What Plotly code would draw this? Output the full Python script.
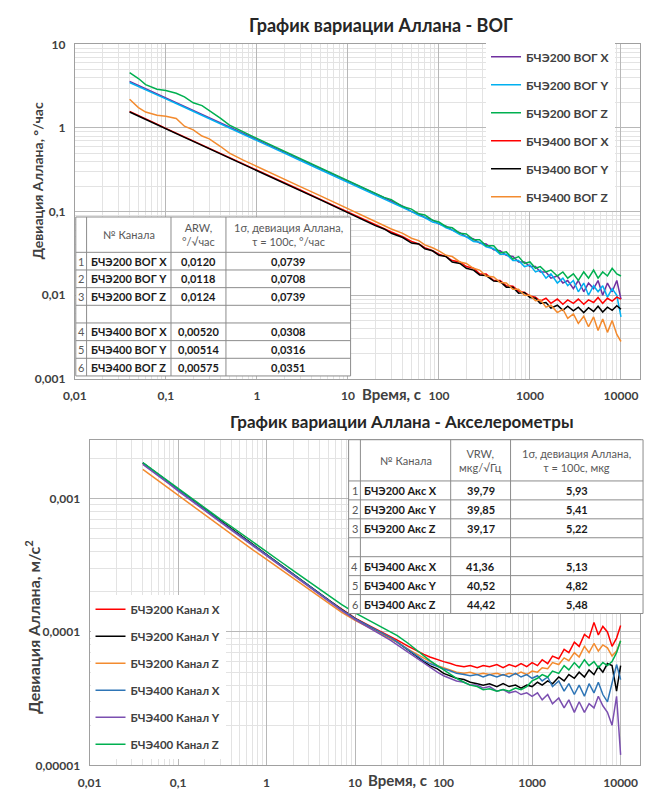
import plotly.graph_objects as go

# ---------------- DATA ----------------
tau = [0.04, 0.05, 0.06, 0.08, 0.1, 0.13, 0.16, 0.2, 0.25, 0.3, 0.4, 0.5, 0.7, 1, 1.5, 2, 3, 5, 7, 10,
       15, 20, 25, 30, 40, 50, 60, 70, 85, 100, 120, 140, 170, 200, 240, 280, 330, 400, 470, 550,
       650, 750, 870, 1000, 1150, 1300, 1500, 1700, 2000, 2300, 2600, 3000, 3400, 3900, 4400, 5000,
       5600, 6300, 7100, 8000, 9000, 10000]

x_tick_vals = [0.01, 0.1, 1, 10, 100, 1000, 10000]
x_tick_text = ["0,01", "0,1", "1", "10", "100", "1000", "10000"]
gyro_y_tick_vals = [0.001, 0.01, 0.1, 1, 10]
gyro_y_tick_text = ["0,001", "0,01", "0,1", "1", "10"]
acc_y_tick_vals = [0.00001, 0.0001, 0.001]
acc_y_tick_text = ["0,00001", "0,0001", "0,001"]

gyro_names = ["БЧЭ200 ВОГ X", "БЧЭ200 ВОГ Y", "БЧЭ200 ВОГ Z",
              "БЧЭ400 ВОГ X", "БЧЭ400 ВОГ Y", "БЧЭ400 ВОГ Z"]

gyro_200_x = [3.60, 3.22, 2.94, 2.55, 2.28, 2.0, 1.80, 1.61, 1.44, 1.32, 1.14, 1.02, 0.86, 0.72, 0.588, 0.509, 0.415, 0.322, 0.272, 0.228,
              0.186, 0.163, 0.146, 0.131, 0.116, 0.100, 0.094, 0.085, 0.079, 0.071, 0.067, 0.060, 0.056, 0.050, 0.047, 0.042, 0.041, 0.035, 0.034, 0.030,
              0.029, 0.025, 0.025, 0.022, 0.022, 0.019, 0.019, 0.016, 0.017, 0.014, 0.015, 0.012, 0.015, 0.011, 0.014, 0.012,
              0.015, 0.010, 0.014, 0.011, 0.015, 0.009]
gyro_200_y = [3.50, 3.15, 2.88, 2.50, 2.23, 1.96, 1.77, 1.58, 1.41, 1.29, 1.12, 1.0, 0.845, 0.708, 0.578, 0.500, 0.408, 0.316, 0.268, 0.224,
              0.182, 0.160, 0.141, 0.130, 0.111, 0.100, 0.090, 0.085, 0.075, 0.072, 0.064, 0.060, 0.053, 0.050, 0.044, 0.043, 0.038, 0.036, 0.031, 0.031,
              0.026, 0.026, 0.022, 0.023, 0.019, 0.020, 0.016, 0.018, 0.014, 0.016, 0.013, 0.015, 0.011, 0.014, 0.010, 0.013,
              0.011, 0.013, 0.0095, 0.012, 0.010, 0.0055]
gyro_200_z = [4.6, 3.9, 3.3, 2.9, 2.8, 2.6, 2.35, 2.0, 1.85, 1.62, 1.3, 1.08, 0.90, 0.75, 0.61, 0.528, 0.432, 0.334, 0.283, 0.236,
              0.193, 0.168, 0.148, 0.139, 0.115, 0.107, 0.094, 0.091, 0.079, 0.075, 0.066, 0.064, 0.055, 0.054, 0.046, 0.046, 0.039, 0.039, 0.032, 0.033,
              0.027, 0.029, 0.024, 0.025, 0.021, 0.022, 0.019, 0.020, 0.017, 0.019, 0.016, 0.018, 0.015, 0.019, 0.016, 0.020,
              0.016, 0.019, 0.017, 0.021, 0.018, 0.017]
gyro_400_x = [1.58, 1.40, 1.28, 1.11, 0.99, 0.87, 0.78, 0.70, 0.625, 0.572, 0.494, 0.441, 0.374, 0.313, 0.255, 0.221, 0.181, 0.140, 0.118, 0.099,
              0.081, 0.070, 0.063, 0.057, 0.050, 0.044, 0.041, 0.037, 0.034, 0.031, 0.029, 0.026, 0.025, 0.022, 0.021, 0.018, 0.018, 0.015, 0.0150, 0.013,
              0.0128, 0.0112, 0.0108, 0.0098, 0.0095, 0.0085, 0.0092, 0.0080, 0.0090, 0.0078, 0.0088, 0.0080, 0.0090, 0.0078, 0.0088, 0.0082,
              0.0094, 0.0080, 0.0092, 0.0085, 0.0095, 0.0090]
gyro_400_y = [1.55, 1.38, 1.26, 1.09, 0.975, 0.855, 0.77, 0.69, 0.616, 0.563, 0.487, 0.435, 0.368, 0.308, 0.252, 0.218, 0.178, 0.138, 0.116, 0.097,
              0.080, 0.068, 0.062, 0.055, 0.049, 0.042, 0.041, 0.036, 0.034, 0.030, 0.029, 0.025, 0.024, 0.021, 0.020, 0.0175, 0.0172, 0.0148, 0.0146, 0.0125,
              0.0125, 0.0106, 0.0108, 0.0094, 0.0092, 0.0080, 0.0082, 0.0070, 0.0076, 0.0066, 0.0074, 0.0065, 0.0072, 0.0062, 0.0071, 0.0064,
              0.0074, 0.0063, 0.0072, 0.0066, 0.0075, 0.0068]
gyro_400_z = [2.2, 1.75, 1.55, 1.42, 1.38, 1.30, 1.05, 0.95, 0.80, 0.74, 0.60, 0.50, 0.415, 0.345, 0.282, 0.244, 0.199, 0.154, 0.130, 0.108,
              0.089, 0.076, 0.069, 0.062, 0.055, 0.048, 0.045, 0.040, 0.037, 0.034, 0.030, 0.029, 0.025, 0.024, 0.021, 0.020, 0.017, 0.0165, 0.0142, 0.0140,
              0.0118, 0.0118, 0.0100, 0.0100, 0.0086, 0.0088, 0.0072, 0.0076, 0.0062, 0.0068, 0.0053, 0.0060, 0.0046, 0.0056, 0.0042, 0.0055,
              0.0038, 0.0052, 0.0036, 0.0050, 0.0034, 0.0028]

acc_names = ["БЧЭ200 Канал X", "БЧЭ200 Канал Y", "БЧЭ200 Канал Z",
             "БЧЭ400 Канал X", "БЧЭ400 Канал Y", "БЧЭ400 Канал Z"]

acc_200_x = [1.83e-3, 1.64e-3, 1.50e-3, 1.30e-3, 1.16e-3, 1.02e-3, 9.2e-4, 8.25e-4, 7.4e-4, 6.75e-4, 5.9e-4, 5.28e-4, 4.48e-4, 3.78e-4, 3.1e-4, 2.7e-4, 2.21e-4, 1.73e-4, 1.49e-4, 1.27e-4,
             1.1e-4, 1.0e-4, 9.3e-5, 8.7e-5, 7.8e-5, 7.2e-5, 6.8e-5, 6.5e-5, 6.2e-5, 6.0e-5, 5.8e-5, 5.6e-5, 5.5e-5, 5.6e-5, 5.4e-5, 5.6e-5, 5.5e-5, 5.7e-5, 5.4e-5, 5.7e-5,
             5.5e-5, 5.8e-5, 5.5e-5, 5.9e-5, 5.6e-5, 6.2e-5, 5.8e-5, 6.6e-5, 6.3e-5, 7.4e-5, 7.0e-5, 8.4e-5, 7.8e-5, 9.6e-5, 9.0e-5, 1.18e-4,
             9.5e-5, 1.1e-4, 1.0e-4, 7.8e-5, 9.0e-5, 1.12e-4]
acc_200_y = [1.85e-3, 1.66e-3, 1.52e-3, 1.31e-3, 1.17e-3, 1.03e-3, 9.25e-4, 8.3e-4, 7.45e-4, 6.8e-4, 5.95e-4, 5.33e-4, 4.52e-4, 3.8e-4, 3.12e-4, 2.71e-4, 2.22e-4, 1.73e-4, 1.48e-4, 1.26e-4,
             1.08e-4, 9.8e-5, 9.0e-5, 8.4e-5, 7.3e-5, 6.5e-5, 6.0e-5, 5.6e-5, 5.3e-5, 4.9e-5, 4.7e-5, 4.5e-5, 4.4e-5, 4.2e-5, 4.1e-5, 4.0e-5, 4.1e-5, 3.9e-5, 4.1e-5, 3.9e-5,
             4.0e-5, 3.8e-5, 4.0e-5, 3.9e-5, 4.2e-5, 4.0e-5, 4.3e-5, 4.1e-5, 4.6e-5, 4.3e-5, 4.8e-5, 4.5e-5, 5.0e-5, 4.6e-5, 5.2e-5, 4.8e-5,
             5.5e-5, 5.0e-5, 5.8e-5, 5.6e-5, 3.6e-5, 5.6e-5]
acc_200_z = [1.65e-3, 1.48e-3, 1.36e-3, 1.18e-3, 1.05e-3, 9.25e-4, 8.35e-4, 7.5e-4, 6.75e-4, 6.2e-4, 5.4e-4, 4.85e-4, 4.12e-4, 3.5e-4, 2.9e-4, 2.53e-4, 2.08e-4, 1.64e-4, 1.41e-4, 1.22e-4,
             1.06e-4, 9.7e-5, 9.0e-5, 8.4e-5, 7.4e-5, 6.8e-5, 6.3e-5, 6.0e-5, 5.6e-5, 5.4e-5, 5.2e-5, 5.0e-5, 4.9e-5, 5.0e-5, 4.8e-5, 4.9e-5, 4.8e-5, 4.9e-5, 4.75e-5, 4.9e-5,
             4.8e-5, 5.0e-5, 4.8e-5, 5.1e-5, 5.0e-5, 5.4e-5, 5.3e-5, 5.9e-5, 5.7e-5, 6.4e-5, 6.1e-5, 7.0e-5, 6.5e-5, 7.8e-5, 7.0e-5, 8.2e-5,
             7.2e-5, 8.0e-5, 7.6e-5, 6.6e-5, 7.2e-5, 8.6e-5]
acc_400_x = [1.84e-3, 1.65e-3, 1.51e-3, 1.30e-3, 1.16e-3, 1.02e-3, 9.2e-4, 8.3e-4, 7.4e-4, 6.75e-4, 5.9e-4, 5.3e-4, 4.5e-4, 3.78e-4, 3.1e-4, 2.7e-4, 2.21e-4, 1.72e-4, 1.47e-4, 1.26e-4,
             1.09e-4, 9.8e-5, 9.1e-5, 8.4e-5, 7.4e-5, 6.7e-5, 6.1e-5, 5.8e-5, 5.5e-5, 5.3e-5, 5.1e-5, 4.9e-5, 4.8e-5, 4.7e-5, 4.8e-5, 4.6e-5, 4.8e-5, 4.6e-5, 4.8e-5, 4.6e-5,
             4.9e-5, 4.6e-5, 4.8e-5, 4.5e-5, 4.7e-5, 4.3e-5, 4.6e-5, 3.9e-5, 4.3e-5, 3.6e-5, 4.1e-5, 3.4e-5, 4.0e-5, 3.3e-5, 4.1e-5, 3.5e-5,
             4.2e-5, 3.4e-5, 3.0e-5, 4.2e-5, 5.7e-5, 4.4e-5]
acc_400_y = [1.80e-3, 1.62e-3, 1.48e-3, 1.28e-3, 1.14e-3, 1.0e-3, 9.05e-4, 8.15e-4, 7.3e-4, 6.65e-4, 5.8e-4, 5.2e-4, 4.42e-4, 3.72e-4, 3.05e-4, 2.65e-4, 2.17e-4, 1.69e-4, 1.45e-4, 1.24e-4,
             1.06e-4, 9.5e-5, 8.7e-5, 8.0e-5, 7.0e-5, 6.3e-5, 5.8e-5, 5.4e-5, 5.0e-5, 4.7e-5, 4.5e-5, 4.3e-5, 4.2e-5, 4.0e-5, 4.0e-5, 3.8e-5, 3.9e-5, 3.6e-5, 3.7e-5, 3.5e-5,
             3.6e-5, 3.4e-5, 3.5e-5, 3.3e-5, 3.5e-5, 3.1e-5, 3.4e-5, 2.9e-5, 3.2e-5, 2.7e-5, 3.1e-5, 2.5e-5, 3.0e-5, 2.5e-5, 2.9e-5, 2.7e-5,
             3.3e-5, 2.8e-5, 2.5e-5, 2.0e-5, 3.3e-5, 1.2e-5]
acc_400_z = [1.86e-3, 1.67e-3, 1.53e-3, 1.32e-3, 1.18e-3, 1.04e-3, 9.4e-4, 8.5e-4, 7.65e-4, 7.0e-4, 6.15e-4, 5.55e-4, 4.72e-4, 4.0e-4, 3.3e-4, 2.88e-4, 2.38e-4, 1.87e-4, 1.61e-4, 1.39e-4,
             1.2e-4, 1.09e-4, 1.01e-4, 9.4e-5, 8.2e-5, 7.3e-5, 6.6e-5, 6.1e-5, 5.6e-5, 5.2e-5, 4.8e-5, 4.5e-5, 4.2e-5, 4.0e-5, 3.9e-5, 3.7e-5, 3.75e-5, 3.6e-5, 3.7e-5, 3.6e-5,
             3.8e-5, 3.7e-5, 3.9e-5, 4.3e-5, 4.5e-5, 4.8e-5, 4.6e-5, 5.1e-5, 4.9e-5, 5.6e-5, 5.2e-5, 5.9e-5, 5.4e-5, 6.2e-5, 5.6e-5, 6.0e-5,
             5.4e-5, 5.9e-5, 5.6e-5, 6.0e-5, 7.0e-5, 8.6e-5]

# tables
gyro_tab_idx = ["1", "2", "3", "", "4", "5", "6"]
gyro_tab_names = ["БЧЭ200 ВОГ X", "БЧЭ200 ВОГ Y", "БЧЭ200 ВОГ Z", "", "БЧЭ400 ВОГ X", "БЧЭ400 ВОГ Y", "БЧЭ400 ВОГ Z"]
gyro_tab_arw = ["0,0120", "0,0118", "0,0124", "", "0,00520", "0,00514", "0,00575"]
gyro_tab_sigma = ["0,0739", "0,0708", "0,0739", "", "0,0308", "0,0316", "0,0351"]
gyro_tab_header = ["", "№ Канала", "ARW,<br>°/√час", "1σ, девиация Аллана,<br>τ = 100с, °/час"]

acc_tab_idx = ["1", "2", "3", "", "4", "5", "6"]
acc_tab_names = ["БЧЭ200 Акс X", "БЧЭ200 Акс Y", "БЧЭ200 Акс Z", "", "БЧЭ400 Акс X", "БЧЭ400 Акс Y", "БЧЭ400 Акс Z"]
acc_tab_vrw = ["39,79", "39,85", "39,17", "", "41,36", "40,52", "44,42"]
acc_tab_sigma = ["5,93", "5,41", "5,22", "", "5,13", "4,82", "5,48"]
acc_tab_header = ["", "№ Канала", "VRW,<br>мкg/√Гц", "1σ, девиация Аллана,<br>τ = 100с, мкg"]

# ---------------- STYLE / LAYOUT ----------------
W, H = 645, 798
FONT = "Lato"
TXT = "#404040"


def px(x):
    return x / W


def py(y):
    return 1 - y / H


gyro_colors = ["#7030A0", "#00B0F0", "#00B050", "#FF0000", "#000000", "#F38B2F"]
acc_colors = ["#FF0000", "#000000", "#F38B2F", "#2E75B6", "#7B4FB0", "#00B050"]

fig = go.Figure()

gyro_series = [gyro_200_x, gyro_200_y, gyro_200_z, gyro_400_x, gyro_400_y, gyro_400_z]
for i, (name, vals) in enumerate(zip(gyro_names, gyro_series)):
    fig.add_trace(go.Scatter(x=tau, y=vals, mode="lines", name=name,
                             line=dict(color=gyro_colors[i], width=1.5),
                             xaxis="x", yaxis="y", legend="legend",
                             legendgroup="g%d" % i))

acc_series = [acc_200_x, acc_200_y, acc_200_z, acc_400_x, acc_400_y, acc_400_z]
for i, (name, vals) in enumerate(zip(acc_names, acc_series)):
    fig.add_trace(go.Scatter(x=tau, y=vals, mode="lines", name=name,
                             line=dict(color=acc_colors[i], width=1.5),
                             xaxis="x2", yaxis="y2", legend="legend2",
                             legendgroup="a%d" % i))

grid_major = "#B8B8B8"
grid_minor = "#E3E3E3"


def log_axis(**kw):
    d = dict(type="log", showgrid=True, gridcolor=grid_major, gridwidth=1,
             minor=dict(dtick="D1", showgrid=True, gridcolor=grid_minor, gridwidth=1, ticks=""),
             showline=True, linecolor="#A0A0A0", linewidth=1, mirror=True,
             ticks="", zeroline=False, ticklabelstandoff=6,
             tickfont=dict(family=FONT, size=12, color=TXT, weight="bold"),
             tickmode="array")
    d.update(kw)
    return d


fig.update_layout(
    width=W, height=H,
    margin=dict(l=0, r=0, t=0, b=0),
    paper_bgcolor="white", plot_bgcolor="white",
    font=dict(family=FONT, color=TXT),
    xaxis=log_axis(domain=[px(64), px(640)], range=[-2, 4.21], anchor="y",
                   tickvals=x_tick_vals, ticktext=x_tick_text),
    yaxis=log_axis(domain=[py(378), py(37)], range=[-3, 1], anchor="x",
                   tickvals=gyro_y_tick_vals, ticktext=gyro_y_tick_text),
    xaxis2=log_axis(domain=[px(79), px(640)], range=[-2, 4.22], anchor="y2",
                    tickvals=x_tick_vals, ticktext=x_tick_text),
    yaxis2=log_axis(domain=[py(772), py(440)], range=[-5, -2.56], anchor="x2",
                    tickvals=acc_y_tick_vals, ticktext=acc_y_tick_text),
    legend=dict(x=px(483), y=py(35), xanchor="left", yanchor="top",
                bgcolor="white", borderwidth=0, traceorder="grouped", tracegroupgap=9,
                font=dict(family=FONT, size=12, color=TXT, weight="bold"), itemwidth=30),
    legend2=dict(x=px(80), y=py(598), xanchor="left", yanchor="top",
                 bgcolor="white", borderwidth=0, traceorder="grouped", tracegroupgap=8,
                 font=dict(family=FONT, size=11.5, color=TXT, weight="bold"), itemwidth=30),
    showlegend=True,
)

annotations = []
shapes = []


def note(text, x, y, size, color=TXT, **kw):
    d = dict(text=text, x=px(x), y=py(y), xref="paper", yref="paper", showarrow=False,
             xanchor="center", yanchor="middle", font=dict(family=FONT, size=size, color=color))
    d.update(kw)
    annotations.append(d)


# titles
note("<b>График вариации Аллана - ВОГ</b>", 376, 17, 18, "#262626")
note("<b>График вариации Аллана - Акселерометры</b>", 397, 421, 17, "#262626")
# axis titles
note("<b>Время, с</b>", 387, 393, 15)
note("<b>Время, с</b>", 393, 787, 15)
note("<b>Девиация Аллана, °/час</b>", 26, 176, 14, textangle=-90)
note("<b>Девиация Аллана, м/с<sup>2</sup></b>", 21, 631, 16, textangle=-90)


def draw_table(cols, top, header_h, row_h, header, idx, names, v1, v2):
    nrows = len(names)
    bottom = top + header_h + row_h * nrows
    line = dict(color="#8C8C8C", width=1)
    shapes.append(dict(type="rect", xref="paper", yref="paper", x0=px(cols[0]), x1=px(cols[-1]),
                       y0=py(top), y1=py(bottom), fillcolor="white", line=line, layer="above"))
    for c in cols[1:-1]:
        shapes.append(dict(type="line", xref="paper", yref="paper", x0=px(c), x1=px(c),
                           y0=py(top), y1=py(bottom), line=line, layer="above"))
    for r in range(nrows):
        yline = top + header_h + r * row_h
        shapes.append(dict(type="line", xref="paper", yref="paper", x0=px(cols[0]), x1=px(cols[-1]),
                           y0=py(yline), y1=py(yline), line=line, layer="above"))
    for j, t in enumerate(header):
        if t:
            note(t, (cols[j] + cols[j + 1]) / 2, top + header_h / 2, 11, "#595959", align="center")
    for r in range(nrows):
        yc = top + header_h + (r + 0.5) * row_h
        if idx[r]:
            note(idx[r], (cols[0] + cols[1]) / 2, yc, 11, "#595959")
        if names[r]:
            note("<b>%s</b>" % names[r], cols[1] + 2, yc, 11, "#1A1A1A", xanchor="left")
        if v1[r]:
            note("<b>%s</b>" % v1[r], (cols[2] + cols[3]) / 2, yc, 11, "#1A1A1A")
        if v2[r]:
            note("<b>%s</b>" % v2[r], (cols[3] + cols[4]) / 2, yc, 11, "#1A1A1A")


draw_table([65, 76, 162, 218, 345], 213, 36, 18, gyro_tab_header, gyro_tab_idx, gyro_tab_names,
           gyro_tab_arw, gyro_tab_sigma)
draw_table([343, 355, 447, 508, 643], 440, 42, 19.3, acc_tab_header, acc_tab_idx, acc_tab_names,
           acc_tab_vrw, acc_tab_sigma)

fig.update_layout(annotations=annotations, shapes=shapes)

fig.write_html("out.html", config={"displayModeBar": False})
